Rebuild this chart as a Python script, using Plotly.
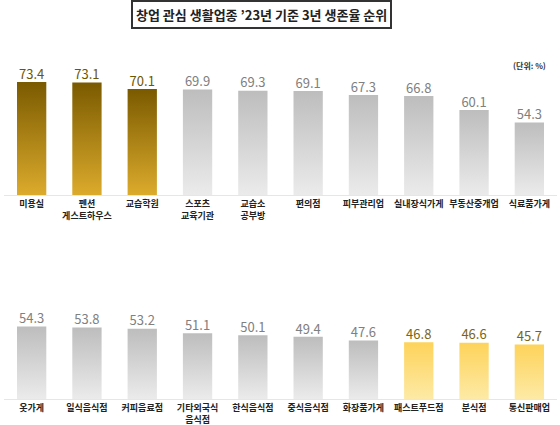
import plotly.graph_objects as go

# 3-year survival rate (%) by business type, 2023
top_cats = ['미용실', '펜션<br>게스트하우스', '교습학원', '스포츠<br>교육기관', '교습소<br>공부방',
            '편의점', '피부관리업', '실내장식가게', '부동산중개업', '식료품가게']
top_vals = [73.4, 73.1, 70.1, 69.9, 69.3, 69.1, 67.3, 66.8, 60.1, 54.3]
top_group = ['high', 'high', 'high', 'mid', 'mid', 'mid', 'mid', 'mid', 'mid', 'mid']

bottom_cats = ['옷가게', '일식음식점', '커피음료점', '기타외국식<br>음식점', '한식음식점',
               '중식음식점', '화장품가게', '패스트푸드점', '분식점', '통신판매업']
bottom_vals = [54.3, 53.8, 53.2, 51.1, 50.1, 49.4, 47.6, 46.8, 46.6, 45.7]
bottom_group = ['mid', 'mid', 'mid', 'mid', 'mid', 'mid', 'mid', 'low', 'low', 'low']

# gradient (bottom colour, top colour) and label colour per group
styles = {
    'high': (('#dcab2c', '#7a5a00'), '#6e5600'),
    'mid': (('#ebebeb', '#bdbdbd'), '#808080'),
    'low': (('#fdeaa6', '#fdd35a'), '#7a6512'),
}

BASE = 20
HALF = 0.265
KR = 'Noto Sans CJK KR'

fig = go.Figure()


def add_panel(cats, vals, groups, xa, ya):
    for i, (v, g) in enumerate(zip(vals, groups)):
        (c0, c1), _ = styles[g]
        fig.add_trace(go.Scatter(
            x=[i - HALF, i - HALF, i + HALF, i + HALF, i - HALF],
            y=[BASE, v, v, BASE, BASE],
            mode='none', fill='toself',
            fillgradient=dict(type='vertical', colorscale=[[0, c0], [1, c1]]),
            xaxis=xa, yaxis=ya, hoverinfo='skip', showlegend=False,
        ))
    fig.add_trace(go.Scatter(
        x=list(range(len(vals))), y=vals, mode='text',
        text=[f'{v:.1f}' for v in vals], textposition='top center',
        textfont=dict(family=KR, size=13, color=[styles[g][1] for g in groups]),
        xaxis=xa, yaxis=ya, hoverinfo='skip', showlegend=False,
    ))


add_panel(top_cats, top_vals, top_group, 'x', 'y')
add_panel(bottom_cats, bottom_vals, bottom_group, 'x2', 'y2')

xcommon = dict(range=[-0.5, 9.5], domain=[4 / 560, 557 / 560], tickvals=list(range(10)),
               ticks='', showgrid=False, zeroline=False, showline=True,
               linecolor='#e6e6e6', linewidth=1, fixedrange=True,
               tickfont=dict(family=KR, size=9, color='#222222'))
ycommon = dict(range=[BASE, 80], visible=False, showgrid=False, zeroline=False)

fig.update_layout(
    width=560, height=425,
    margin=dict(l=0, r=0, t=0, b=0),
    paper_bgcolor='white', plot_bgcolor='white',
    xaxis=dict(xcommon, ticktext=[f'<b>{c}</b>' for c in top_cats], anchor='y'),
    yaxis=dict(ycommon, domain=[230 / 425, 357 / 425]),
    xaxis2=dict(xcommon, ticktext=[f'<b>{c}</b>' for c in bottom_cats], anchor='y2'),
    yaxis2=dict(ycommon, domain=[26 / 425, 153 / 425]),
    annotations=[
        dict(text='<b>창업 관심 생활업종 ’23년 기준 3년 생존율 순위</b>',
             x=0.467, y=1 - 15 / 425, xref='paper', yref='paper',
             xanchor='center', yanchor='middle', showarrow=False,
             font=dict(family=KR, size=13, color='#222222'),
             bordercolor='#333333', borderwidth=2, borderpad=3, bgcolor='white'),
        dict(text='<b>(단위: %)</b>', x=548 / 560, y=1 - 66 / 425,
             xref='paper', yref='paper', xanchor='right', yanchor='middle',
             showarrow=False, font=dict(family=KR, size=8, color='#333333')),
    ],
)

fig.write_html('out.html', config={'displayModeBar': False},
               post_script="document.body.style.margin='0';")
